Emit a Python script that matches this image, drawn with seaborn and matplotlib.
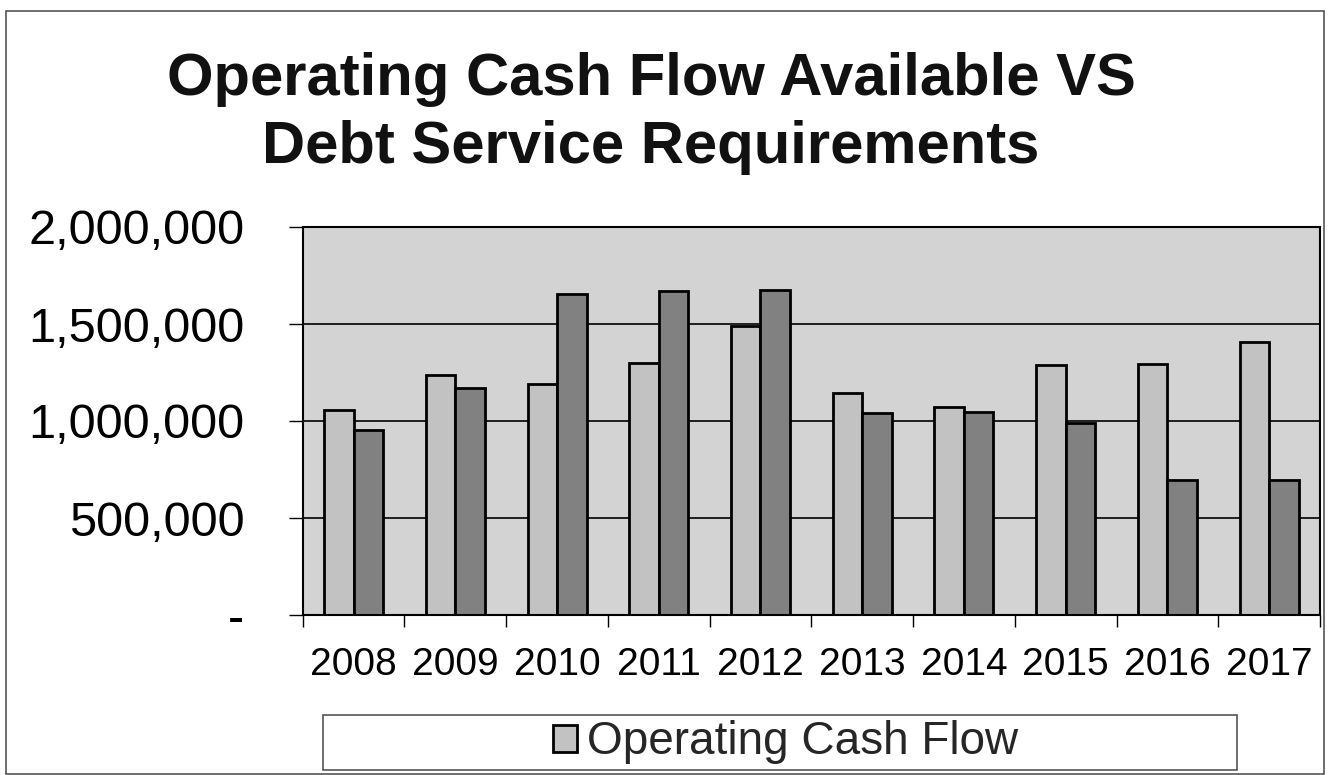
import numpy as np
import pandas as pd
import matplotlib
matplotlib.use("Agg")
import matplotlib.pyplot as plt
import seaborn as sns
from matplotlib.ticker import FuncFormatter, FixedLocator
from matplotlib.patches import Rectangle

# Values
years = ["2008", "2009", "2010", "2011", "2012", "2013", "2014", "2015", "2016", "2017"]
operating_cash_flow = [1055000, 1236000, 1192000, 1299000, 1490000,
                       1144000, 1071000, 1287000, 1292000, 1406000]
debt_service = [955000, 1169000, 1655000, 1670000, 1674000,
                1043000, 1046000, 988000, 696000, 696000]
series_names = ["Operating Cash Flow", "Debt Service Requirements"]

df = pd.DataFrame({
    "Year": years * 2,
    "Value": operating_cash_flow + debt_service,
    "Series": [series_names[0]] * len(years) + [series_names[1]] * len(years),
})

sns.set_theme(style="white")
plt.rcParams["font.family"] = ["Liberation Sans", "DejaVu Sans"]

W, H = 1328, 775
fig = plt.figure(figsize=(W / 100, H / 100), dpi=100)
ax = fig.add_axes([302.7 / W, 1 - 615 / H, (1320 - 302.7) / W, (615 - 227) / H])

light, dark, bg = "#c2c2c2", "#818181", "#d3d3d3"
sns.barplot(data=df, x="Year", y="Value", hue="Series", palette=[light, dark],
            width=0.58, edgecolor="black", linewidth=2.0, saturation=1, ax=ax)
handles, labels = ax.get_legend_handles_labels()
if ax.get_legend() is not None:
    ax.get_legend().remove()

ax.set_facecolor(bg)
ax.set_xlim(-0.5, len(years) - 0.5)
ax.set_ylim(0, 2000000)
ax.set_yticks([0, 500000, 1000000, 1500000, 2000000])
ax.yaxis.set_major_formatter(FuncFormatter(lambda v, p: "-" if v == 0 else f"{v:,.0f}"))
ax.yaxis.grid(True, color="black", linewidth=1.2)
ax.set_axisbelow(True)
ax.set_xlabel("")
ax.set_ylabel("")

ax.xaxis.set_minor_locator(FixedLocator(np.arange(-0.5, len(years), 1)))
ax.tick_params(axis="x", which="major", length=0, pad=23, labelsize=28, colors="black")
ax.tick_params(axis="x", which="minor", bottom=True, length=8.6, width=1, color="black", direction="out")
ax.tick_params(axis="y", left=True, length=10, width=1, color="black", direction="out",
               pad=32, labelsize=35, labelcolor="black")

for s in ax.spines.values():
    s.set_visible(True)
    s.set_color("black")
    s.set_linewidth(1.5)

# Title
fig.text(651 / W, 1 - 95 / H, "Operating Cash Flow Available VS", ha="center", va="baseline",
         fontsize=43, fontweight="bold", color="#111111")
fig.text(651 / W, 1 - 163 / H, "Debt Service Requirements", ha="center", va="baseline",
         fontsize=43, fontweight="bold", color="#111111")

# Outer chart border
fig.patches.append(Rectangle((6 / W, 1 / H), (1324 - 6) / W, (774 - 11) / H,
                             transform=fig.transFigure, fill=False, edgecolor="#555555", linewidth=1.2))

# Legend box with only the first series
fig.patches.append(Rectangle((323 / W, 5 / H), (1237 - 323) / W, 55 / H,
                             transform=fig.transFigure, fill=False, edgecolor="#555555", linewidth=1.2))
fig.legend(handles=handles[:1], labels=labels[:1], loc="center",
           bbox_to_anchor=(786 / W, 1 - 742.5 / H), frameon=False,
           fontsize=33, handlelength=0.52, handleheight=0.52, handletextpad=0.22,
           borderpad=0, borderaxespad=0)

fig.savefig("out.png", dpi=100)
